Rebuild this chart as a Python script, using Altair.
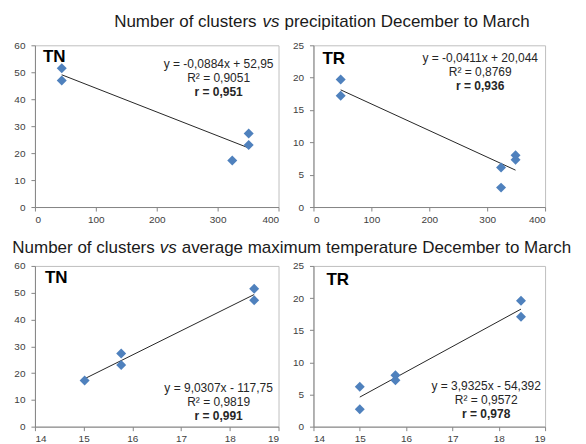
import altair as alt
import pandas as pd

FONT = "Liberation Sans, Arial, sans-serif"

# ---- data ----
tn_precip_x = [44, 44, 324, 351, 351]
tn_precip_y = [51.5, 46.9, 17.3, 27.3, 23.0]
tr_precip_x = [47, 47, 324, 324, 349, 349]
tr_precip_y = [19.7, 17.2, 6.1, 3.0, 8.0, 7.3]
tn_temp_x = [15.02, 15.77, 15.77, 18.5, 18.5]
tn_temp_y = [17.2, 27.3, 23.0, 51.5, 47.2]
tr_temp_x = [15.0, 15.0, 15.77, 15.77, 18.48, 18.48]
tr_temp_y = [6.2, 2.7, 8.0, 7.2, 19.6, 17.1]

# trendline coefficients (slope, intercept) as printed
tn_precip_fit = [-0.0884, 52.95]
tr_precip_fit = [-0.0411, 20.044]
tn_temp_fit = [9.0307, -117.75]
tr_temp_fit = [3.9325, -54.392]

tn_precip_eq = ["y = -0,0884x + 52,95", "R² = 0,9051", "r = 0,951"]
tr_precip_eq = ["y = -0,0411x + 20,044", "R² = 0,8769", "r = 0,936"]
tn_temp_eq = ["y = 9,0307x - 117,75", "R² = 0,9819", "r = 0,991"]
tr_temp_eq = ["y = 3,9325x - 54,392", "R² = 0,9572", "r = 0,978"]

precip_ticks = [0, 100, 200, 300, 400]
temp_ticks = [14, 15, 16, 17, 18, 19]
tn_ticks = [0, 10, 20, 30, 40, 50, 60]
tr_ticks = [0, 5, 10, 15, 20, 25]

title_top = ["Number of clusters", "vs", "precipitation  December to March"]
title_bottom = ["Number of clusters", "vs", "average  maximum  temperature  December to March"]


def txt(t, x, y, **kw):
    return alt.Chart(pd.DataFrame({"t": [t]})).mark_text(font=FONT, **kw).encode(
        text="t:N", x=alt.value(x), y=alt.value(y)
    )


def title_marks(parts, x1, xvs, x3, y):
    return [
        txt(parts[0], x1, y, align="right", baseline="alphabetic", fontSize=17, color="#1a1a1a"),
        txt(parts[1], xvs, y, align="left", baseline="alphabetic", fontSize=17, fontStyle="italic", color="#1a1a1a"),
        txt(parts[2], x3, y, align="left", baseline="alphabetic", fontSize=17, color="#1a1a1a"),
    ]


def panel(xs, ys, fit, xdom, xticks, ydom, yticks, w, h, name, npos, eq, epos, extra=()):
    pts = pd.DataFrame({"x": xs, "y": ys})
    lo, hi = min(xs), max(xs)
    trend = pd.DataFrame({"x": [lo, hi], "y": [fit[0] * lo + fit[1], fit[0] * hi + fit[1]]})
    xenc = alt.X("x:Q", scale=alt.Scale(domain=xdom, nice=False, zero=False),
                 axis=alt.Axis(values=xticks, title=None, grid=False, format="d"))
    yenc = alt.Y("y:Q", scale=alt.Scale(domain=ydom, nice=False, zero=False),
                 axis=alt.Axis(values=yticks, title=None, grid=False, format="d"))
    line = alt.Chart(trend).mark_line(color="#262626", strokeWidth=1).encode(x=xenc, y=yenc)
    points = alt.Chart(pts).mark_point(shape="diamond", filled=True, size=100,
                                       color="#4F81BD", opacity=1).encode(x=xenc, y=yenc)
    label = txt(name, npos[0], npos[1], align="left", baseline="middle", fontSize=17,
                fontWeight="bold", color="#000000")
    ex, ey = epos
    e1 = txt(eq[0], ex, ey, align="center", baseline="middle", fontSize=12, color="#262626")
    e2 = txt(eq[1], ex, ey + 14, align="center", baseline="middle", fontSize=12, color="#262626")
    e3 = txt(eq[2], ex, ey + 28, align="center", baseline="middle", fontSize=12,
             fontWeight="bold", color="#262626")
    return alt.layer(line, points, label, e1, e2, e3, *extra).properties(width=w, height=h)


tl = panel(tn_precip_x, tn_precip_y, tn_precip_fit, [0, 400], precip_ticks, [0, 60], tn_ticks,
           244, 162, "TN", (8, 12), tn_precip_eq, (184, 19),
           extra=title_marks(title_top, 222, 228, 250, -18))
tr = panel(tr_precip_x, tr_precip_y, tr_precip_fit, [0, 400], precip_ticks, [0, 25], tr_ticks,
           232, 162, "TR", (9, 14), tr_precip_eq, (167, 13))
bl = panel(tn_temp_x, tn_temp_y, tn_temp_fit, [14, 19], temp_ticks, [0, 60], tn_ticks,
           244, 161, "TN", (10, 12), tn_temp_eq, (184, 122),
           extra=title_marks(title_bottom, 120, 125, 147, -13))
br = panel(tr_temp_x, tr_temp_y, tr_temp_fit, [14, 19], temp_ticks, [0, 25], tr_ticks,
           232, 161, "TR", (13, 14), tr_temp_eq, (173, 120))

chart = alt.concat(
    tl, tr, bl, br, columns=2, spacing={"row": 59, "column": 35}, bounds="flush"
).properties(
    padding={"left": 11, "top": 12, "right": 0, "bottom": 0}
).configure(background="white").configure_view(
    stroke="#BFBFBF", strokeWidth=1
).configure_axis(
    domainColor="#868686", tickColor="#868686", labelColor="#404040",
    labelFontSize=10, labelFont=FONT, tickSize=4
).configure_axisX(labelPadding=3).configure_axisY(labelPadding=6)

chart.save("out.html", embed_options={"renderer": "svg", "actions": False})
